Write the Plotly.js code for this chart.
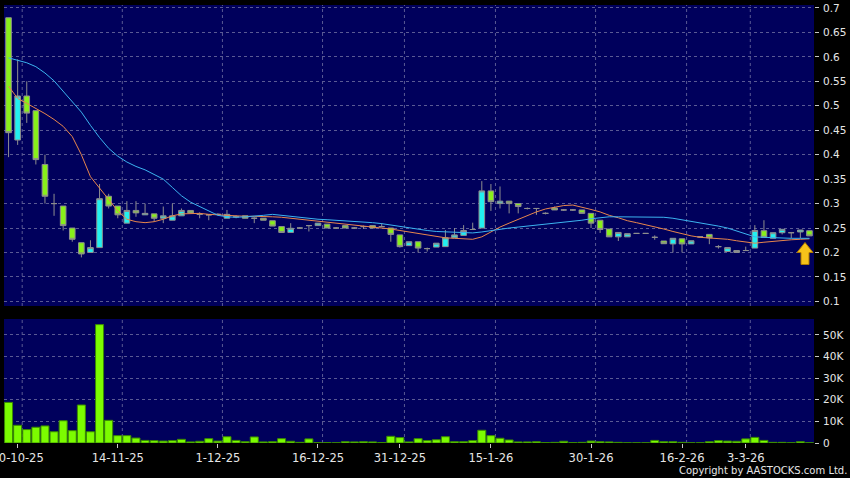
<!DOCTYPE html>
<html><head><meta charset="utf-8">
<script src="https://cdn.plot.ly/plotly-3.0.1.min.js"></script>
<style>html,body{margin:0;padding:0;background:#000;}#chart{width:850px;height:478px;}</style>
</head><body><div id="chart"></div>
<script>
// ---- data (one entry per trading day) ----
const openP  = [0.68,0.43,0.52,0.49,0.38,0.30,0.295,0.25,0.22,0.20,0.21,0.315,0.295,0.26,0.286,0.277,0.279,0.27,0.266,0.275,0.286,0.278,0.277,0.278,0.27,0.273,0.275,0.27,0.27,0.265,0.253,0.241,0.25,0.255,0.255,0.258,0.25,0.255,0.25,0.253,0.255,0.253,0.25,0.236,0.214,0.222,0.208,0.211,0.212,0.23,0.235,0.247,0.25,0.326,0.30,0.305,0.30,0.29,0.29,0.28,0.291,0.287,0.287,0.287,0.28,0.266,0.248,0.232,0.232,0.239,0.239,0.231,0.2235,0.2175,0.228,0.2175,0.232,0.237,0.212,0.202,0.20,0.204,0.209,0.2446,0.229,0.2405,0.2405,0.242,0.2446];
const highP  = [0.68,0.595,0.55,0.49,0.40,0.32,0.295,0.25,0.22,0.225,0.34,0.32,0.295,0.305,0.305,0.30,0.279,0.294,0.30,0.29,0.286,0.282,0.277,0.28,0.287,0.276,0.275,0.272,0.27,0.265,0.253,0.26,0.252,0.256,0.26,0.258,0.252,0.255,0.252,0.255,0.255,0.26,0.25,0.236,0.222,0.222,0.21,0.219,0.246,0.25,0.256,0.261,0.346,0.34,0.335,0.305,0.30,0.292,0.29,0.282,0.294,0.289,0.289,0.287,0.28,0.266,0.248,0.241,0.2385,0.239,0.239,0.235,0.2235,0.229,0.228,0.224,0.233,0.237,0.215,0.21,0.204,0.212,0.256,0.266,0.2405,0.2474,0.242,0.246,0.2446];
const lowP   = [0.395,0.42,0.465,0.38,0.30,0.275,0.245,0.222,0.19,0.20,0.21,0.29,0.27,0.26,0.273,0.277,0.263,0.26,0.266,0.275,0.281,0.27,0.266,0.276,0.27,0.27,0.27,0.26,0.266,0.254,0.241,0.241,0.248,0.243,0.255,0.25,0.248,0.25,0.248,0.248,0.25,0.252,0.222,0.21,0.214,0.20,0.202,0.211,0.212,0.23,0.235,0.247,0.25,0.285,0.29,0.28,0.28,0.288,0.277,0.278,0.287,0.285,0.285,0.28,0.25,0.24,0.232,0.2235,0.232,0.239,0.239,0.226,0.218,0.20,0.20,0.2175,0.231,0.217,0.208,0.202,0.20,0.203,0.209,0.231,0.229,0.237,0.229,0.229,0.234];
const closeP = [0.445,0.52,0.485,0.39,0.315,0.30,0.255,0.227,0.197,0.21,0.31,0.295,0.277,0.286,0.281,0.28,0.27,0.275,0.275,0.286,0.281,0.278,0.277,0.278,0.278,0.273,0.27,0.27,0.266,0.254,0.241,0.2495,0.25,0.255,0.26,0.25,0.25,0.25,0.25,0.253,0.25,0.253,0.237,0.212,0.222,0.209,0.208,0.219,0.23,0.236,0.245,0.247,0.326,0.304,0.305,0.30,0.294,0.29,0.29,0.28,0.287,0.287,0.287,0.28,0.26,0.247,0.232,0.241,0.2385,0.239,0.239,0.231,0.218,0.229,0.2175,0.224,0.232,0.23,0.212,0.21,0.204,0.204,0.245,0.231,0.2405,0.2474,0.2405,0.246,0.234];
const ma10   = [0.54,0.515,0.505,0.495,0.484,0.472,0.458,0.437,0.40,0.355,0.332,0.31,0.285,0.268,0.263,0.261,0.263,0.268,0.275,0.279,0.28,0.28,0.278,0.277,0.275,0.275,0.274,0.274,0.274,0.273,0.272,0.27,0.268,0.266,0.264,0.262,0.26,0.258,0.257,0.255,0.253,0.251,0.248,0.245,0.242,0.239,0.235,0.232,0.23,0.229,0.228,0.227,0.232,0.242,0.252,0.26,0.268,0.276,0.283,0.289,0.293,0.296,0.297,0.293,0.288,0.283,0.276,0.271,0.265,0.261,0.257,0.253,0.248,0.243,0.238,0.234,0.231,0.23,0.229,0.227,0.224,0.221,0.219,0.221,0.223,0.225,0.226,0.227,0.228];
const ma20   = [0.598,0.593,0.588,0.58,0.567,0.551,0.53,0.51,0.487,0.46,0.435,0.413,0.397,0.385,0.376,0.369,0.36,0.35,0.333,0.316,0.303,0.294,0.284,0.276,0.273,0.272,0.273,0.274,0.276,0.278,0.276,0.273,0.272,0.27,0.268,0.267,0.266,0.265,0.264,0.262,0.261,0.259,0.256,0.253,0.25,0.248,0.245,0.243,0.242,0.241,0.24,0.24,0.242,0.245,0.248,0.25,0.252,0.254,0.256,0.258,0.259,0.261,0.263,0.266,0.269,0.271,0.273,0.273,0.273,0.273,0.273,0.273,0.272,0.27,0.267,0.264,0.261,0.258,0.254,0.25,0.244,0.238,0.232,0.231,0.23,0.23,0.229,0.229,0.229];
const volume = [18800,8200,6200,7300,7900,5200,10300,5700,17600,5200,54800,10500,3400,3400,2300,1200,1100,900,1100,1700,500,800,2000,900,2900,1200,600,2800,500,600,2000,800,300,1900,200,200,100,600,500,600,500,200,3100,2500,500,2000,1100,1500,2900,600,600,1100,5900,3400,2200,1400,500,500,600,200,300,800,200,300,900,600,500,300,100,100,100,1200,600,600,300,100,100,600,1100,900,800,1900,2600,1200,300,300,100,600,100];
const tickIdx    = [1,12,23,34,43,53,64,74,81];
const tickLabels = ['30-10-25','14-11-25','1-12-25','16-12-25','31-12-25','15-1-26','30-1-26','16-2-26','3-3-26'];
const priceTicks = [0.1,0.15,0.2,0.25,0.3,0.35,0.4,0.45,0.5,0.55,0.6,0.65,0.7];
const priceTickText = ['0.1','0.15','0.2','0.25','0.3','0.35','0.4','0.45','0.5','0.55','0.6','0.65','0.7'];
const volTicks = [0,10000,20000,30000,40000,50000];
const volTickText = ['0','10K','20K','30K','40K','50K'];

const idx = openP.map((_, i) => i);
const GRID = '#5a5a94';
const TXT = '#e6e6e6';
const FONT = 'DejaVu Sans';

const traces = [
  {type:'candlestick', x:idx, open:openP, high:highP, low:lowP, close:closeP,
   xaxis:'x', yaxis:'y', whiskerwidth:0, hoverinfo:'skip',
   increasing:{line:{color:'#8e8e8e', width:1}, fillcolor:'#22f0f0'},
   decreasing:{line:{color:'#8e8e8e', width:1}, fillcolor:'#88f01a'}},
  {type:'scatter', mode:'lines', x:idx, y:ma10, xaxis:'x', yaxis:'y', line:{color:'#e8864c', width:1}, hoverinfo:'skip'},
  {type:'scatter', mode:'lines', x:idx, y:ma20, xaxis:'x', yaxis:'y', line:{color:'#3cb4f0', width:1}, hoverinfo:'skip'},
  {type:'bar', x:idx, y:volume, xaxis:'x', yaxis:'y2', hoverinfo:'skip',
   marker:{color:'#7cfc00', line:{color:'#3a8a00', width:1}}}
];

const shapes = [];
tickIdx.forEach(t => {
  ['y domain','y2 domain'].forEach(r => {
    shapes.push({type:'line', xref:'x', yref:r, x0:t+0.5, x1:t+0.5, y0:0, y1:1,
      layer:'below', line:{color:GRID, width:1, dash:'3px,3px'}});
  });
});
// yellow marker arrow (decoration, paper coordinates)
shapes.push({type:'path', xref:'paper', yref:'paper',
  path:'M 0.98889 0.45776 L 0.99877 0.43493 L 0.99383 0.43493 L 0.99383 0.40753 L 0.98395 0.40753 L 0.98395 0.43493 L 0.97901 0.43493 Z',
  fillcolor:'#f6c21a', line:{color:'#b07a00', width:1}, layer:'above'});

const layout = {
  width:850, height:478,
  paper_bgcolor:'#000000', plot_bgcolor:'#00005c',
  margin:{l:4, r:36, t:5, b:35},
  showlegend:false, bargap:0.12, boxgap:0.12,
  xaxis:{range:[-0.5,88.5], anchor:'y2', tickvals:tickIdx, ticktext:tickLabels,
    ticks:'outside', ticklen:4, tickcolor:'#c8c8c8', showgrid:false, zeroline:false, showline:false,
    ticklabeloverflow:'allow',
    rangeslider:{visible:false}, tickfont:{family:FONT, size:11.5, color:TXT}, fixedrange:true},
  yaxis:{domain:[0.3128,1], range:[0.0906,0.7061], side:'right', anchor:'x',
    tickvals:priceTicks, ticktext:priceTickText, ticks:'outside', ticklen:4, tickcolor:'#c8c8c8',
    showgrid:true, gridcolor:GRID, griddash:'3px,3px', gridwidth:1, zeroline:false, showline:false,
    tickfont:{family:FONT, size:10.5, color:TXT}, ticklabelstandoff:2, fixedrange:true},
  yaxis2:{domain:[0,0.2831], range:[0,57400], side:'right', anchor:'x',
    tickvals:volTicks, ticktext:volTickText, ticks:'outside', ticklen:4, tickcolor:'#c8c8c8',
    showgrid:true, gridcolor:GRID, griddash:'3px,3px', gridwidth:1, zeroline:false, showline:false,
    tickfont:{family:FONT, size:10.5, color:TXT}, ticklabelstandoff:2, fixedrange:true},
  shapes:shapes,
  annotations:[{text:'Copyright by AASTOCKS.com Ltd.', xref:'paper', yref:'paper',
    x:1.0432, y:-0.0628, xanchor:'right', yanchor:'middle', showarrow:false,
    font:{family:FONT, size:10, color:TXT}}]
};

Plotly.newPlot('chart', traces, layout, {displayModeBar:false, staticPlot:true});
</script>
</body></html>
